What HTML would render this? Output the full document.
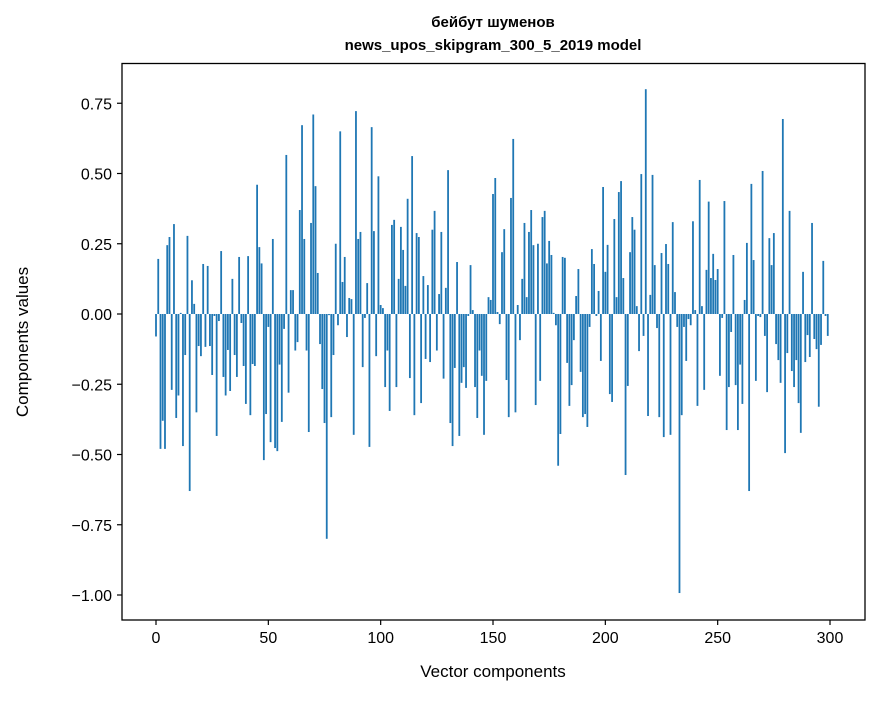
<!DOCTYPE html>
<html><head><meta charset="utf-8"><style>
body{margin:0;background:#fff}
svg text{font-family:"Liberation Sans","DejaVu Sans",sans-serif;fill:#000}
</style></head><body>
<svg id="chart" width="880" height="696" viewBox="0 0 880 696" xmlns="http://www.w3.org/2000/svg">
<text x="493" y="27" font-size="15" font-weight="bold" text-anchor="middle">бейбут шуменов</text>
<text x="493" y="50" font-size="15" font-weight="bold" text-anchor="middle">news_upos_skipgram_300_5_2019 model</text>
<g id="bars"></g>
<g id="axes"></g>
<rect x="122" y="63.5" width="743" height="556.5" fill="none" stroke="#000" stroke-width="1.3"/>
<text x="493" y="677" font-size="17" text-anchor="middle">Vector components</text>
<text x="28" y="342" font-size="17" text-anchor="middle" transform="rotate(-90 28 342)">Components values</text>
</svg>
<script>
const values = [-0.08,0.196,-0.48,-0.38,-0.48,0.245,0.274,-0.27,0.32,-0.37,-0.29,0.004,-0.47,-0.146,0.278,-0.63,0.12,0.036,-0.35,-0.114,-0.15,0.178,-0.117,0.171,-0.114,-0.217,-0.007,-0.434,-0.025,0.224,-0.224,-0.29,-0.128,-0.274,0.125,-0.146,-0.224,0.203,-0.032,-0.185,-0.32,0.206,-0.36,-0.178,-0.185,0.46,0.238,0.18,-0.52,-0.356,-0.046,-0.456,0.267,-0.477,-0.488,-0.18,-0.384,-0.053,0.566,-0.28,
0.085,0.085,-0.13,-0.1,0.37,0.672,0.267,-0.13,-0.42,0.324,0.71,0.455,0.146,-0.107,-0.267,-0.388,-0.80,-0.004,-0.367,-0.146,0.25,-0.04,0.65,0.114,0.203,-0.082,0.057,0.053,-0.43,0.722,0.267,0.292,-0.189,-0.014,0.11,-0.473,0.665,0.295,-0.15,0.49,0.032,0.021,-0.26,-0.13,-0.345,0.317,0.335,-0.26,0.125,0.31,0.228,0.1,0.41,-0.228,0.562,-0.36,0.288,0.274,-0.317,0.135,
-0.16,0.103,-0.171,0.3,0.367,-0.13,0.071,0.292,-0.23,0.093,0.512,-0.388,-0.47,-0.192,0.185,-0.434,-0.245,-0.189,-0.263,-0.007,0.174,0.014,-0.26,-0.37,-0.13,-0.22,-0.43,-0.238,0.06,0.05,0.427,0.484,0.007,-0.036,0.22,0.302,-0.235,-0.367,0.413,0.623,-0.35,0.032,-0.093,0.125,0.324,0.06,0.292,0.37,0.245,-0.324,0.25,-0.238,0.345,0.367,0.18,0.26,0.21,0.004,-0.04,-0.54,
-0.427,0.203,0.2,-0.174,-0.327,-0.253,-0.093,0.064,0.16,-0.206,-0.367,-0.356,-0.402,-0.046,0.231,0.178,-0.007,0.082,-0.167,0.452,0.15,0.246,-0.285,-0.313,0.338,0.06,0.434,0.473,0.128,-0.573,-0.256,0.22,0.345,0.3,0.028,-0.132,0.498,-0.078,0.8,-0.363,0.068,0.495,0.174,-0.05,-0.367,0.217,-0.438,0.249,0.178,-0.43,0.327,0.078,-0.046,-0.993,-0.36,-0.046,-0.167,-0.018,-0.04,
0.33,0.014,-0.327,0.477,0.028,-0.27,0.157,0.4,0.128,0.214,0.121,0.16,-0.22,-0.014,0.402,-0.413,-0.26,-0.064,0.21,-0.253,-0.413,-0.18,-0.32,0.05,0.253,-0.63,0.463,0.192,-0.238,-0.007,-0.011,0.509,-0.078,-0.278,0.27,0.174,0.288,-0.107,-0.164,-0.245,0.694,-0.495,-0.139,0.367,-0.203,-0.26,-0.164,-0.317,-0.423,0.15,-0.171,-0.075,-0.153,0.324,-0.089,-0.125,-0.33,-0.11,0.189,-0.007,-0.078];
const xTicks = [0,50,100,150,200,250,300];
const yTicks = [0.75,0.5,0.25,0,-0.25,-0.5,-0.75,-1.0];
const yTickLabels = ["0.75","0.50","0.25","0.00","\u22120.25","\u22120.50","\u22120.75","\u22121.00"];

const NS="http://www.w3.org/2000/svg";
function xs(v){return 156+v*2.2467;}
function ys(v){return 314-v*281;}
const bars=document.getElementById('bars');
values.forEach((v,i)=>{
  const r=document.createElementNS(NS,'rect');
  
  
  const x0=xs(i-0.4), x1=xs(i+0.4);
  const y0=Math.min(ys(v),ys(0)), h=Math.abs(ys(v)-ys(0));
  r.setAttribute('x',x0);r.setAttribute('width',x1-x0);
  r.setAttribute('y',y0);r.setAttribute('height',Math.max(h,0.3));
  r.setAttribute('fill','#1f77b4');
  bars.appendChild(r);
});
const axes=document.getElementById('axes');
xTicks.forEach(t=>{
  const l=document.createElementNS(NS,'line');
  
  
  l.setAttribute('x1',xs(t));l.setAttribute('x2',xs(t));l.setAttribute('y1',620);l.setAttribute('y2',625);
  l.setAttribute('stroke','#000');l.setAttribute('stroke-width','1.2');
  axes.appendChild(l);
  const tx=document.createElementNS(NS,'text');
  
  
  tx.setAttribute('x',xs(t));tx.setAttribute('y',643);tx.setAttribute('font-size','16');tx.setAttribute('text-anchor','middle');
  tx.textContent=String(t);
  axes.appendChild(tx);
});
yTicks.forEach((t,i)=>{
  const l=document.createElementNS(NS,'line');
  
  
  l.setAttribute('x1',117);l.setAttribute('x2',122);l.setAttribute('y1',ys(t));l.setAttribute('y2',ys(t));
  l.setAttribute('stroke','#000');l.setAttribute('stroke-width','1.2');
  axes.appendChild(l);
  const tx=document.createElementNS(NS,'text');
  
  
  tx.setAttribute('x',112);tx.setAttribute('y',ys(t)+6);tx.setAttribute('font-size','16');tx.setAttribute('text-anchor','end');
  tx.textContent=yTickLabels[i];
  axes.appendChild(tx);
});
</script>
</body></html>
